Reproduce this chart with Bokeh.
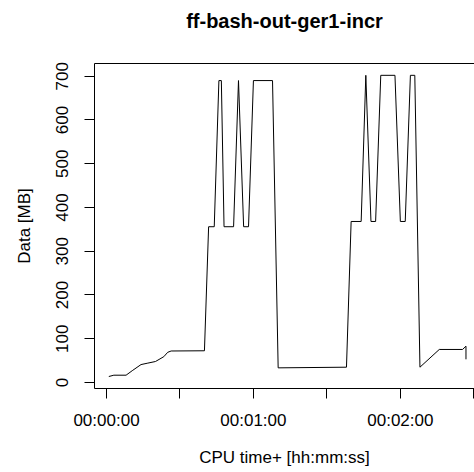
from bokeh.plotting import figure
from bokeh.models import FixedTicker, Range1d, LinearAxis
from bokeh.embed import file_html
from bokeh.resources import INLINE

# CPU time (seconds) and data volume (MB)
time_s = [0.95, 3.0, 8.0, 10.5, 14.1, 16.6, 20.0, 23.4, 25.0, 26.4, 40.0,
          41.7, 44.0, 45.9, 46.9, 48.0, 51.9, 53.9, 56.0, 58.0, 60.0, 67.8,
          70.1, 98.0, 99.9, 104.0, 105.9, 108.0, 109.9, 112.0, 117.8, 120.0,
          122.0, 124.1, 125.9, 128.0, 135.9, 145.4, 146.8, 146.8]
data_mb = [13.7, 16.7, 16.7, 27, 41, 44, 48, 59, 69, 72, 72.5,
           356, 356, 690, 690, 356, 356, 690, 356, 356, 690, 690,
           33.5, 35, 368, 368, 702, 368, 368, 702, 702, 368,
           368, 702, 702, 35, 75.5, 75.5, 83, 53]

x_ticks = [0, 30, 60, 90, 120, 150]
x_tick_labels = ["00:00:00", "", "00:01:00", "", "00:02:00", ""]
y_ticks = [0, 100, 200, 300, 400, 500, 600, 700]
title_text = "ff-bash-out-ger1-incr"

FONT = "Liberation Sans"

p = figure(width=474, height=472, output_backend="svg", toolbar_location=None,
           x_range=Range1d(-4.9, 150.28), y_range=Range1d(-13.7, 729.0),
           min_border_left=94, min_border_right=0, min_border_top=63,
           min_border_bottom=84)
p.title_location = None
p.outline_line_color = None
p.background_fill_color = "white"
p.border_fill_color = "white"
p.xgrid.visible = False
p.ygrid.visible = False

p.line(time_s, data_mb, line_color="black", line_width=1)

xa = p.below[0]
xa.ticker = FixedTicker(ticks=x_ticks)
xa.major_label_overrides = {t: l for t, l in zip(x_ticks, x_tick_labels)}
xa.axis_label = "CPU time+ [hh:mm:ss]"

ya = p.left[0]
ya.ticker = FixedTicker(ticks=y_ticks)
ya.major_label_orientation = "vertical"
ya.axis_label = "Data [MB]"

for ax in (xa, ya):
    ax.axis_line_color = "black"
    ax.major_tick_line_color = "black"
    ax.major_tick_out = 10
    ax.major_tick_in = 0
    ax.minor_tick_line_color = None
    ax.major_label_text_font = FONT
    ax.major_label_text_font_size = "17px"
    ax.major_label_text_color = "black"
    ax.axis_label_text_font = FONT
    ax.axis_label_text_font_size = "17px"
    ax.axis_label_text_font_style = "normal"
    ax.axis_label_text_color = "black"

xa.major_label_standoff = 12
xa.axis_label_standoff = 15
ya.major_label_standoff = 16
ya.axis_label_standoff = 20

# top border of the plot box, carrying the title
top = LinearAxis(ticker=FixedTicker(ticks=[]), major_label_text_font_size="0px",
                 major_tick_out=0, major_tick_in=0, minor_tick_out=0,
                 minor_tick_in=0, axis_line_color="black",
                 major_label_standoff=0,
                 axis_label=title_text, axis_label_standoff=32,
                 axis_label_text_font=FONT, axis_label_text_font_size="20px",
                 axis_label_text_font_style="bold",
                 axis_label_text_color="black")
p.add_layout(top, "above")

open("out.html", "w").write(file_html(p, INLINE))
